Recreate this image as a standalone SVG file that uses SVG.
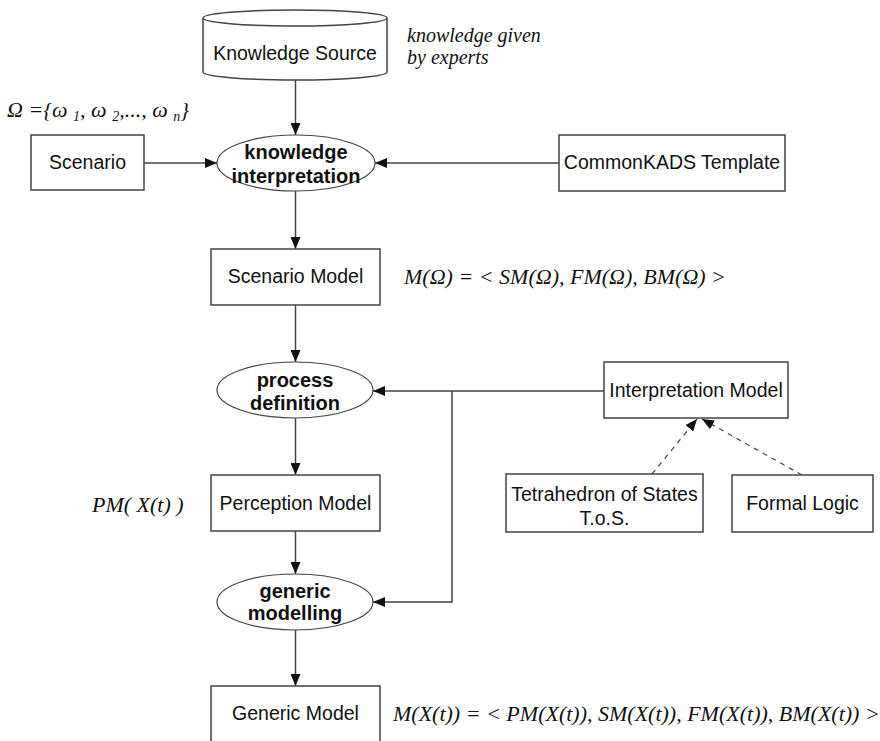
<svg xmlns="http://www.w3.org/2000/svg" width="880" height="741" viewBox="0 0 880 741">
<style>
.box{fill:#fff;stroke:#444;stroke-width:1.5}
.ell{fill:#fff;stroke:#444;stroke-width:1.2}
.t{font-family:"Liberation Sans",Arial,sans-serif;font-size:19.5px;fill:#111;text-anchor:middle}
.b{font-family:"Liberation Sans",Arial,sans-serif;font-size:20px;font-weight:bold;fill:#111;text-anchor:middle}
.m{font-family:"Liberation Serif","Times New Roman",serif;font-style:italic;font-size:22px;fill:#111}
.n{font-family:"Liberation Serif","Times New Roman",serif;font-style:italic;font-size:20px;fill:#111}
.c{fill:none;stroke:#444;stroke-width:1.5}
.d{fill:none;stroke:#444;stroke-width:1.2;stroke-dasharray:5,5}
</style>
<defs>
<marker id="ah" markerWidth="12" markerHeight="10" refX="12" refY="5" orient="auto" markerUnits="userSpaceOnUse">
<path d="M0,0 L12,5 L0,10 Z" fill="#111"/>
</marker>
</defs>
<g id="connectors">
<line class="c" x1="295.5" y1="80" x2="295.5" y2="135" marker-end="url(#ah)"/>
<line class="c" x1="144" y1="163" x2="217" y2="163" marker-end="url(#ah)"/>
<line class="c" x1="559" y1="163" x2="375" y2="163" marker-end="url(#ah)"/>
<line class="c" x1="295.5" y1="191" x2="295.5" y2="249" marker-end="url(#ah)"/>
<line class="c" x1="295.5" y1="305" x2="295.5" y2="362" marker-end="url(#ah)"/>
<line class="c" x1="604" y1="391" x2="373" y2="391" marker-end="url(#ah)"/>
<line class="c" x1="295.5" y1="418" x2="295.5" y2="475" marker-end="url(#ah)"/>
<line class="c" x1="295.5" y1="531" x2="295.5" y2="574" marker-end="url(#ah)"/>
<polyline class="c" points="452,391 452,602 373,602" marker-end="url(#ah)"/>
<line class="c" x1="295.5" y1="630" x2="295.5" y2="686" marker-end="url(#ah)"/>
<line class="d" x1="652" y1="474" x2="697" y2="419" marker-end="url(#ah)"/>
<line class="d" x1="802" y1="475" x2="702" y2="419" marker-end="url(#ah)"/>
</g>
<g id="knowledge-source">
<path class="box" d="M203,18 L203,72 A92,8 0 0 0 387,72 L387,18"/>
<ellipse class="box" cx="295" cy="18" rx="92" ry="8"/>
<text class="t" x="295" y="60">Knowledge Source</text>
</g>
<g id="knowledge-note">
<text class="n" x="407" y="42">knowledge given</text>
<text class="n" x="407" y="64">by experts</text>
</g>
<g id="omega-label">
<text class="m" x="7" y="117">Ω ={ω <tspan font-size="14" dy="4">1</tspan><tspan dy="-4">, ω </tspan><tspan font-size="14" dy="4">2</tspan><tspan dy="-4">,..., ω </tspan><tspan font-size="14" dy="4">n</tspan><tspan dy="-4">}</tspan></text>
</g>
<g id="scenario">
<rect class="box" x="31" y="135" width="113" height="55"/>
<text class="t" x="87.5" y="169">Scenario</text>
</g>
<g id="knowledge-interpretation">
<ellipse class="ell" cx="296" cy="163" rx="79" ry="28"/>
<text class="b" x="296" y="159">knowledge</text>
<text class="b" x="296" y="183">interpretation</text>
</g>
<g id="commonkads">
<rect class="box" x="559" y="135" width="226" height="56"/>
<text class="t" x="672" y="169">CommonKADS Template</text>
</g>
<g id="scenario-model">
<rect class="box" x="211" y="249" width="169" height="56"/>
<text class="t" x="295.5" y="283">Scenario Model</text>
<text class="m" x="404" y="284">M(Ω) = &lt; SM(Ω), FM(Ω), BM(Ω) &gt;</text>
</g>
<g id="process-definition">
<ellipse class="ell" cx="295" cy="390" rx="78" ry="28"/>
<text class="b" x="295" y="387">process</text>
<text class="b" x="295" y="410">definition</text>
</g>
<g id="interpretation-model">
<rect class="box" x="604" y="362" width="184" height="56"/>
<text class="t" x="696" y="397">Interpretation Model</text>
</g>
<g id="tetrahedron">
<rect class="box" x="506" y="474" width="197" height="58"/>
<text class="t" x="604.5" y="501">Tetrahedron of States</text>
<text class="t" x="604.5" y="525">T.o.S.</text>
</g>
<g id="formal-logic">
<rect class="box" x="732" y="475" width="141" height="57"/>
<text class="t" x="802.5" y="510">Formal Logic</text>
</g>
<g id="perception-model">
<rect class="box" x="211" y="475" width="169" height="56"/>
<text class="t" x="295.5" y="510">Perception Model</text>
<text class="m" x="92" y="512">PM( X(t) )</text>
</g>
<g id="generic-modelling">
<ellipse class="ell" cx="295" cy="602" rx="78" ry="28"/>
<text class="b" x="295" y="598">generic</text>
<text class="b" x="295" y="620">modelling</text>
</g>
<g id="generic-model">
<rect class="box" x="211" y="686" width="169" height="60"/>
<text class="t" x="295.5" y="720">Generic Model</text>
<text class="m" x="393" y="721">M(X(t)) = &lt; PM(X(t)), SM(X(t)), FM(X(t)), BM(X(t)) &gt;</text>
</g>
</svg>
